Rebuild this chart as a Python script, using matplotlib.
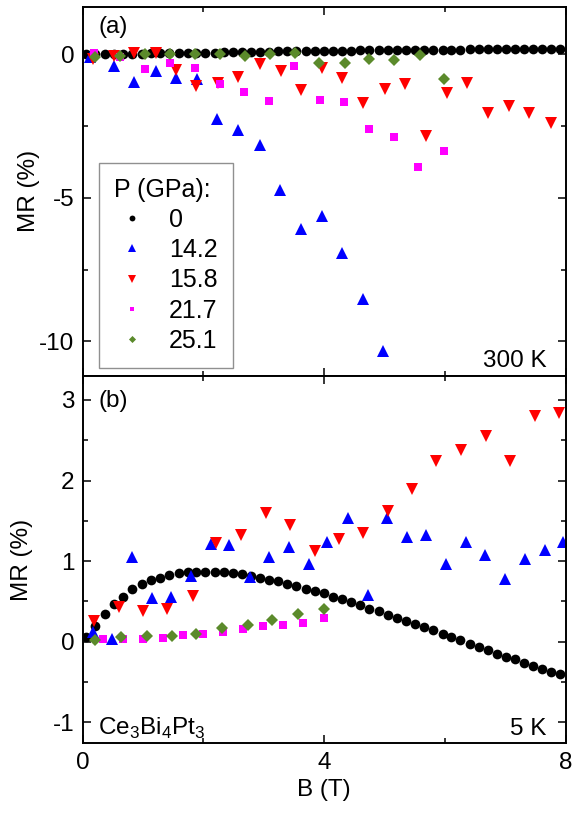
import matplotlib
import matplotlib.pyplot as plt
from matplotlib.ticker import MultipleLocator
matplotlib.rcParams['font.family'] = ['Liberation Sans', 'DejaVu Sans']
matplotlib.rcParams['mathtext.fontset'] = 'custom'
matplotlib.rcParams['mathtext.rm'] = 'Liberation Sans'
matplotlib.rcParams['axes.unicode_minus'] = False

# field grid of the 0 GPa curves (T)
b0 = [0.06, 0.20, 0.37, 0.52, 0.67, 0.82, 0.98, 1.13, 1.28, 1.43,
      1.59, 1.74, 1.88, 2.03, 2.19, 2.34, 2.49, 2.64, 2.79, 2.94,
      3.09, 3.24, 3.39, 3.54, 3.70, 3.84, 3.99, 4.14, 4.30, 4.45,
      4.60, 4.75, 4.90, 5.05, 5.20, 5.35, 5.50, 5.65, 5.80, 5.96,
      6.10, 6.25, 6.41, 6.56, 6.71, 6.86, 7.01, 7.16, 7.31, 7.46,
      7.61, 7.76, 7.91]

# ---- (a) 300 K ----
mr0_300 = [0.00, 0.00, 0.01, 0.01, 0.02, 0.02, 0.02, 0.03, 0.03, 0.04,
           0.04, 0.05, 0.05, 0.06, 0.06, 0.07, 0.07, 0.08, 0.08, 0.09,
           0.09, 0.10, 0.10, 0.11, 0.11, 0.12, 0.12, 0.13, 0.13, 0.13,
           0.14, 0.14, 0.14, 0.15, 0.15, 0.15, 0.15, 0.16, 0.16, 0.16,
           0.16, 0.16, 0.17, 0.17, 0.17, 0.17, 0.17, 0.17, 0.18, 0.18,
           0.18, 0.18, 0.18]

b142_300 = [0.12, 0.51, 0.85, 1.21, 1.55, 1.89, 2.23, 2.58, 2.93, 3.26, 3.62, 3.96, 4.30, 4.64, 4.98]
mr142_300 = [-0.10, -0.40, -0.95, -0.57, -0.82, -0.87, -2.25, -2.64, -3.16, -4.73, -6.10, -5.63, -6.93, -8.54, -10.33]

b158_300 = [0.17, 0.51, 0.85, 1.21, 1.55, 1.88, 2.24, 2.58, 2.93, 3.28, 3.62, 3.97,
            4.30, 4.65, 5.00, 5.34, 5.69, 6.03, 6.37, 6.72, 7.06, 7.40, 7.75]
mr158_300 = [-0.17, -0.06, 0.05, 0.05, -0.55, -1.10, -1.01, -0.80, -0.35, -0.57, -1.24, -0.49,
             -0.81, -1.69, -1.22, -1.03, -2.85, -1.34, -1.01, -2.06, -1.80, -2.06, -2.38]

b217_300 = [0.19, 0.62, 1.03, 1.44, 1.86, 2.27, 2.67, 3.08, 3.50, 3.93, 4.32, 4.74, 5.16, 5.56, 5.98]
mr217_300 = [0.03, -0.10, -0.51, -0.29, -0.49, -1.03, -1.30, -1.62, -0.40, -1.59, -1.65, -2.59, -2.89, -3.92, -3.37]

b251_300 = [0.20, 0.62, 1.03, 1.44, 1.86, 2.27, 2.68, 3.10, 3.51, 3.92, 4.34, 4.75, 5.16, 5.58, 5.98]
mr251_300 = [-0.10, -0.06, 0.01, 0.00, 0.01, 0.01, -0.05, 0.01, 0.06, -0.31, -0.31, -0.17, -0.20, -0.02, -0.86]

# ---- (b) 5 K ----
mr0_5 = [0.06, 0.19, 0.34, 0.47, 0.56, 0.65, 0.715, 0.76, 0.79, 0.83,
         0.85, 0.86, 0.87, 0.87, 0.87, 0.86, 0.85, 0.835, 0.82, 0.79,
         0.77, 0.75, 0.72, 0.69, 0.66, 0.63, 0.60, 0.56, 0.525, 0.49,
         0.45, 0.41, 0.38, 0.335, 0.30, 0.26, 0.22, 0.18, 0.14, 0.09,
         0.055, 0.02, -0.03, -0.065, -0.10, -0.15, -0.19, -0.22, -0.26, -0.30,
         -0.335, -0.37, -0.40]

b142_5 = [0.17, 0.48, 0.81, 1.14, 1.46, 1.80, 2.12, 2.43, 2.77, 3.08, 3.41, 3.74, 4.05,
          4.39, 4.72, 5.04, 5.37, 5.69, 6.02, 6.35, 6.67, 7.00, 7.32, 7.65, 7.96]
mr142_5 = [0.12, 0.03, 1.05, 0.54, 0.55, 0.81, 1.21, 1.20, 0.80, 1.05, 1.17, 0.96, 1.24,
           1.53, 0.58, 1.54, 1.30, 1.33, 0.97, 1.24, 1.08, 0.78, 1.02, 1.14, 1.24]

b158_5 = [0.19, 0.60, 1.00, 1.40, 1.82, 2.21, 2.63, 3.04, 3.43, 3.84,
          4.24, 4.65, 5.05, 5.46, 5.86, 6.27, 6.68, 7.07, 7.49, 7.89]
mr158_5 = [0.26, 0.43, 0.38, 0.41, 0.57, 1.22, 1.33, 1.60, 1.45, 1.13,
           1.27, 1.35, 1.62, 1.90, 2.24, 2.38, 2.55, 2.24, 2.80, 2.84]

b217_5 = [0.33, 0.66, 1.00, 1.33, 1.66, 1.99, 2.32, 2.65, 2.99, 3.32, 3.65, 3.99]
mr217_5 = [0.03, 0.03, 0.03, 0.04, 0.08, 0.10, 0.12, 0.16, 0.19, 0.21, 0.23, 0.30]

b251_5 = [0.20, 0.63, 1.06, 1.48, 1.88, 2.31, 2.73, 3.14, 3.56, 3.99]
mr251_5 = [0.02, 0.06, 0.07, 0.07, 0.10, 0.17, 0.21, 0.27, 0.34, 0.40]

labels = ['0', '14.2', '15.8', '21.7', '25.1']
colors = ['black', '#0000ff', '#ff0000', '#ff00ff', '#5b8a2b']
markers = ['o', '^', 'v', 's', 'D']
msizes = [7, 8.5, 8.5, 6, 6]

size = 17.5
fig = plt.figure(figsize=(5.78, 8.15), dpi=100)
ax1 = fig.add_axes([0.1431, 0.5390, 0.8356, 0.4528])
ax2 = fig.add_axes([0.1431, 0.0880, 0.8356, 0.4510])

top = [(b0, mr0_300), (b142_300, mr142_300), (b158_300, mr158_300),
       (b217_300, mr217_300), (b251_300, mr251_300)]
bot = [(b0, mr0_5), (b142_5, mr142_5), (b158_5, mr158_5),
       (b217_5, mr217_5), (b251_5, mr251_5)]

for i in range(5):
    ax1.plot(top[i][0], top[i][1], ls='none', marker=markers[i], ms=msizes[i],
             color=colors[i], mew=0, label=labels[i])
    ax2.plot(bot[i][0], bot[i][1], ls='none', marker=markers[i], ms=msizes[i],
             color=colors[i], mew=0)

ax1.set_xlim(0, 8)
ax2.set_xlim(0, 8)
ax1.set_ylim(-11.2, 1.66)
ax2.set_ylim(-1.26, 3.30)

for ax in (ax1, ax2):
    ax.xaxis.set_major_locator(MultipleLocator(4))
    ax.xaxis.set_minor_locator(MultipleLocator(2))
    ax.tick_params(which='both', direction='in', top=True, right=True, width=1.1)
    ax.tick_params(which='major', length=6)
    ax.tick_params(which='minor', length=3.5)
    ax.tick_params(axis='y', labelsize=size, pad=6)
    ax.tick_params(axis='x', labelsize=size, pad=6)
    for sp in ax.spines.values():
        sp.set_linewidth(1.4)
    ax.set_ylabel("MR (%)", size=size)

ax1.yaxis.set_major_locator(MultipleLocator(5))
ax1.yaxis.set_minor_locator(MultipleLocator(2.5))
ax2.yaxis.set_major_locator(MultipleLocator(1))
ax2.yaxis.set_minor_locator(MultipleLocator(0.5))
ax1.tick_params(axis='x', labelbottom=False)
ax1.yaxis.set_label_coords(-0.088, 0.5)
ax2.yaxis.set_label_coords(-0.102, 0.5)
ax2.set_xlabel("B (T)", size=size)

ax1.text(0.032, 0.945, "(a)", transform=ax1.transAxes, size=size, va='center')
ax2.text(0.032, 0.931, "(b)", transform=ax2.transAxes, size=size, va='center')
ax1.text(0.961, 0.024, "300 K", transform=ax1.transAxes, size=size, ha='right', va='baseline')
ax2.text(0.961, 0.022, "5 K", transform=ax2.transAxes, size=size, ha='right', va='baseline')
ax2.text(0.032, 0.022, r"Ce$_3$Bi$_4$Pt$_3$", transform=ax2.transAxes, size=size,
         ha='left', va='baseline')

leg = ax1.legend(loc='lower left', bbox_to_anchor=(0.034, 0.021), title="P (GPa):",
                 fontsize=18, title_fontsize=18, alignment='left', markerscale=0.6,
                 handlelength=1.4, handletextpad=0.8, labelspacing=0.25, borderpad=0.6,
                 borderaxespad=0, fancybox=False, framealpha=1, edgecolor='#909090')
leg.get_frame().set_linewidth(1.0)

plt.savefig('out.png', dpi=100)
